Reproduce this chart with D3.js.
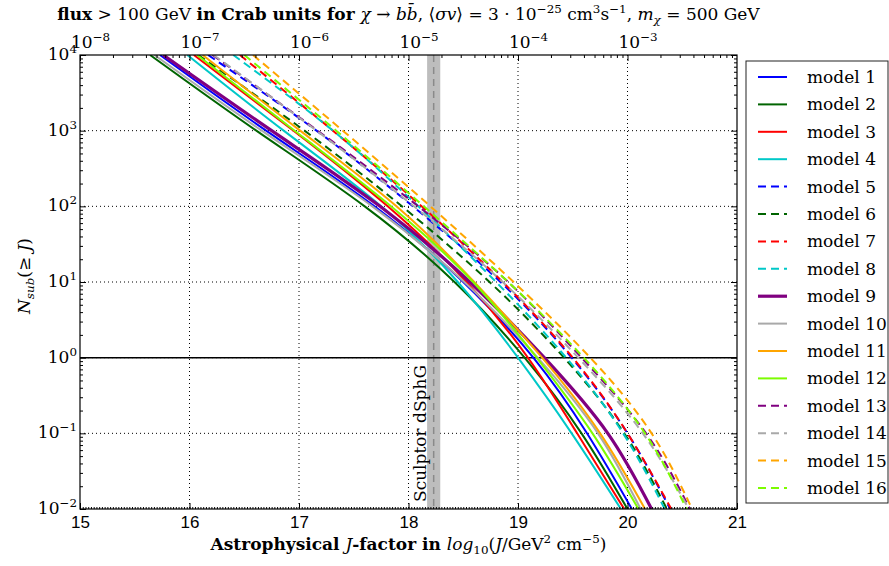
<!DOCTYPE html>
<html>
<head>
<meta charset="utf-8">
<script src="https://cdn.jsdelivr.net/npm/d3@7"></script>
<style>
  body { margin: 0; background: #fff; }
  svg { display: block; font-family: "DejaVu Serif", "Liberation Serif", serif; }
  text { white-space: pre; }
</style>
</head>
<body>
<svg id="chart" width="889" height="566"></svg>
<script>
// log10 N_sub levels at which the J-factor of every curve was read
const levels = [4, 3, 2, 1, 0, -1, -2];

// log10 J where each model reaches N_sub = 10^level
const jModel1 = [15.73, 16.70, 17.69, 18.50, 19.14, 19.63, 20.04];
const jModel2 = [15.64, 16.61, 17.60, 18.42, 19.06, 19.58, 20.00];
const jModel3 = [16.04, 16.95, 17.81, 18.53, 19.09, 19.54, 19.97];
const jModel4 = [15.98, 16.86, 17.75, 18.45, 19.00, 19.49, 19.94];
const jModel5 = [16.17, 17.16, 18.04, 18.84, 19.49, 20.00, 20.39];
const jModel6 = [16.08, 17.05, 17.94, 18.74, 19.42, 19.97, 20.36];
const jModel7 = [16.46, 17.31, 18.12, 18.86, 19.50, 20.00, 20.40];
const jModel8 = [16.40, 17.31, 18.09, 18.80, 19.44, 19.96, 20.34];
const jModel9 = [15.76, 16.75, 17.74, 18.56, 19.24, 19.82, 20.22];
const jModel10 = [15.68, 16.66, 17.67, 18.51, 19.18, 19.73, 20.12];
const jModel11 = [16.12, 17.01, 17.89, 18.60, 19.22, 19.75, 20.16];
const jModel12 = [16.07, 16.96, 17.84, 18.59, 19.17, 19.68, 20.10];
const jModel13 = [16.21, 17.17, 18.09, 18.91, 19.58, 20.17, 20.57];
const jModel14 = [16.22, 17.16, 18.05, 18.86, 19.55, 20.14, 20.56];
const jModel15 = [16.58, 17.40, 18.20, 18.96, 19.66, 20.22, 20.59];
const jModel16 = [16.50, 17.34, 18.14, 18.91, 19.60, 20.16, 20.54];

const modelNames = d3.range(1, 17).map((i) => `model ${i}`);
const modelJ = [jModel1, jModel2, jModel3, jModel4, jModel5, jModel6, jModel7, jModel8,
  jModel9, jModel10, jModel11, jModel12, jModel13, jModel14, jModel15, jModel16];
const modelColors = ["#0000ff", "#006400", "#ff0000", "#00c8c8", "#0000ff", "#006400", "#ff0000", "#00c8c8",
  "#800080", "#a9a9a9", "#ffa500", "#7cfc00", "#800080", "#a9a9a9", "#ffa500", "#7cfc00"];
const modelDashed = [0, 0, 0, 0, 1, 1, 1, 1, 0, 0, 0, 0, 1, 1, 1, 1];

// Sculptor dSph J-factor and its band
const sculptorJ = 18.23;
const sculptorBand = [18.17, 18.29];

const xTicks = [15, 16, 17, 18, 19, 20, 21];
const yTickExps = [-2, -1, 0, 1, 2, 3, 4];
const fluxTickExps = [-8, -7, -6, -5, -4, -3];

const margin = { top: 55, right: 152, bottom: 57, left: 80 };
const width = 889, height = 566;
const chartWidth = width - margin.left - margin.right;
const chartHeight = height - margin.top - margin.bottom;
const fontSize = 17;

const svg = d3.select("#chart");
const chart = svg.append("g").attr("transform", `translate(${margin.left},${margin.top})`);

const x = d3.scaleLinear().domain([15, 21]).range([0, chartWidth]);
const y = d3.scaleLog().domain([1e-2, 1e4]).range([chartHeight, 0]);
// flux above 100 GeV in Crab units, 10^(J-23)
const xFlux = d3.scaleLog().domain([1e-8, 1e-2]).range([0, chartWidth]);

// text with bold / italic / super- and subscript pieces
function rich(textSel, parts, size) {
  let cur = 0;
  parts.forEach(([t, f = ""]) => {
    const sup = f.includes("^"), sub = f.includes("_");
    const off = sup ? -size * 0.42 : sub ? size * 0.25 : 0;
    textSel.append("tspan")
      .attr("dy", off - cur)
      .attr("font-size", sup || sub ? size * 0.7 : size)
      .attr("font-weight", f.includes("b") ? "bold" : null)
      .attr("font-style", f.includes("i") ? "italic" : null)
      .text(t);
    cur = off;
  });
  return textSel;
}
const pow10 = (e) => [["10"], [e < 0 ? `\u2212${-e}` : `${e}`, "^"]];

const minorLog = (lo, hi) => d3.range(lo, hi).flatMap((e) => d3.range(2, 10).map((k) => k * 10 ** e));

chart.append("defs").append("clipPath").attr("id", "plot-clip")
  .append("rect").attr("width", chartWidth).attr("height", chartHeight);

// grid
const gridG = chart.append("g").attr("class", "grid")
  .attr("stroke", "#000").attr("stroke-width", 1).attr("stroke-dasharray", "1,3");
gridG.selectAll("line.gx").data(xTicks.slice(1, -1)).join("line")
  .attr("x1", (d) => x(d)).attr("x2", (d) => x(d)).attr("y1", 0).attr("y2", chartHeight);
gridG.selectAll("line.gy").data(yTickExps.slice(1, -1)).join("line")
  .attr("y1", (d) => y(10 ** d)).attr("y2", (d) => y(10 ** d)).attr("x1", 0).attr("x2", chartWidth);

// Sculptor band
chart.append("rect")
  .attr("x", x(sculptorBand[0])).attr("width", x(sculptorBand[1]) - x(sculptorBand[0]))
  .attr("y", 0).attr("height", chartHeight)
  .attr("fill", "#bdbdbd");
chart.append("line")
  .attr("x1", x(sculptorJ)).attr("x2", x(sculptorJ)).attr("y1", 0).attr("y2", chartHeight)
  .attr("stroke", "#8a8a8a").attr("stroke-width", 1.5).attr("stroke-dasharray", "7,5");
chart.append("text")
  .attr("transform", `translate(${x(sculptorBand[0]) - 1},${chartHeight - 7}) rotate(-90)`)
  .attr("font-size", fontSize)
  .text("Sculptor dSphG");

// N = 1 line
chart.append("line")
  .attr("x1", 0).attr("x2", chartWidth).attr("y1", y(1)).attr("y2", y(1))
  .attr("stroke", "#000").attr("stroke-width", 1.5);

// model curves (levels are evenly spaced in y, so a natural spline on index is smooth)
const line = d3.line()
  .x((d) => x(d[0]))
  .y((d) => y(10 ** d[1]))
  .curve(d3.curveNatural);

chart.append("g").attr("clip-path", "url(#plot-clip)")
  .selectAll("path")
  .data(modelJ)
  .join("path")
  .attr("d", (js) => line(js.map((j, i) => [j, levels[i]])))
  .attr("fill", "none")
  .attr("stroke", (d, i) => modelColors[i])
  .attr("stroke-width", (d, i) => (i === 8 ? 3.2 : 2))
  .attr("stroke-dasharray", (d, i) => (modelDashed[i] ? "8,5" : null));

// axes
const tickStyle = (g) => g.call((a) => a.select(".domain").remove())
  .call((a) => a.selectAll(".tick line").attr("stroke", "#000"));

chart.append("g").attr("transform", `translate(0,${chartHeight})`)
  .call(d3.axisBottom(x).tickValues(d3.range(15, 21.001, 0.025)).tickSizeInner(-2).tickSizeOuter(0).tickFormat(""))
  .call(tickStyle);
const xAxisG = chart.append("g").attr("transform", `translate(0,${chartHeight})`)
  .call(d3.axisBottom(x).tickValues(xTicks).tickSizeInner(-6).tickSizeOuter(0).tickPadding(7).tickFormat(d3.format("d")))
  .call(tickStyle);
xAxisG.selectAll("text").attr("font-size", fontSize).attr("font-family", null).attr("fill", "#000");

[d3.axisLeft(y), d3.axisRight(y)].forEach((ax, k) => {
  chart.append("g").attr("transform", `translate(${k ? chartWidth : 0},0)`)
    .call(ax.tickValues(yTickExps.map((e) => 10 ** e)).tickSizeInner(-6).tickSizeOuter(0).tickFormat(""))
    .call(tickStyle);
  chart.append("g").attr("transform", `translate(${k ? chartWidth : 0},0)`)
    .call(ax.tickValues(minorLog(-2, 4)).tickSizeInner(-3).tickFormat(""))
    .call(tickStyle);
});

chart.append("g")
  .call(d3.axisTop(xFlux).tickValues(fluxTickExps.map((e) => 10 ** e)).tickSizeInner(-6).tickSizeOuter(0).tickFormat(""))
  .call(tickStyle);
chart.append("g")
  .call(d3.axisTop(xFlux).tickValues(minorLog(-8, -2)).tickSizeInner(-3).tickFormat(""))
  .call(tickStyle);

// spines
chart.append("rect").attr("width", chartWidth).attr("height", chartHeight)
  .attr("fill", "none").attr("stroke", "#000").attr("stroke-width", 1.2);

// tick labels
yTickExps.forEach((e) => {
  rich(chart.append("text").attr("x", -3).attr("y", y(10 ** e) + 5).attr("text-anchor", "end"), pow10(e), fontSize);
});
fluxTickExps.forEach((e) => {
  rich(chart.append("text").attr("x", xFlux(10 ** e) - 9).attr("y", -7), pow10(e), fontSize);
});

// titles
rich(svg.append("text").attr("x", margin.left + chartWidth / 2).attr("y", 20).attr("text-anchor", "middle"), [
  ["flux", "b"], [" > 100 GeV "], ["in Crab units for ", "b"], ["\u03c7", "i"], [" \u2192 "], ["b", "i"], ["b\u0304", "i"],
  [", \u27e8"], ["\u03c3v", "i"], ["\u27e9 = 3 \u00b7 10"], ["\u221225", "^"], [" cm"], ["3", "^"], ["s"], ["\u22121", "^"],
  [", "], ["m", "i"], ["\u03c7", "i_"], [" = 500 GeV"],
], fontSize);

rich(svg.append("text").attr("x", margin.left + chartWidth / 2).attr("y", 550).attr("text-anchor", "middle"), [
  ["Astrophysical ", "b"], ["J", "i"], ["-factor in ", "b"], ["log", "i"], ["10", "_"], ["("], ["J", "i"],
  ["/GeV"], ["2", "^"], [" cm"], ["\u22125", "^"], [")"],
], fontSize);

rich(svg.append("text").attr("transform", `translate(30,${margin.top + chartHeight / 2 - 6}) rotate(-90)`)
  .attr("text-anchor", "middle"), [
  ["N", "i"], ["sub", "i_"], ["(\u2265 "], ["J", "i"], [")"],
], fontSize);

// legend
const legend = svg.append("g").attr("transform", "translate(746,61)");
legend.append("rect").attr("width", 142).attr("height", 442)
  .attr("fill", "#fff").attr("stroke", "#222").attr("stroke-width", 1);
const rows = legend.selectAll("g.row").data(modelNames).join("g")
  .attr("transform", (d, i) => `translate(0,${16 + i * 27.4})`);
rows.append("line")
  .attr("x1", 12).attr("x2", 41)
  .attr("stroke", (d, i) => modelColors[i])
  .attr("stroke-width", (d, i) => (i === 8 ? 3.2 : 2))
  .attr("stroke-dasharray", (d, i) => (modelDashed[i] ? "8,5" : null));
rows.append("text").attr("x", 61).attr("y", 6).attr("font-size", fontSize).text((d) => d);
</script>
</body>
</html>
